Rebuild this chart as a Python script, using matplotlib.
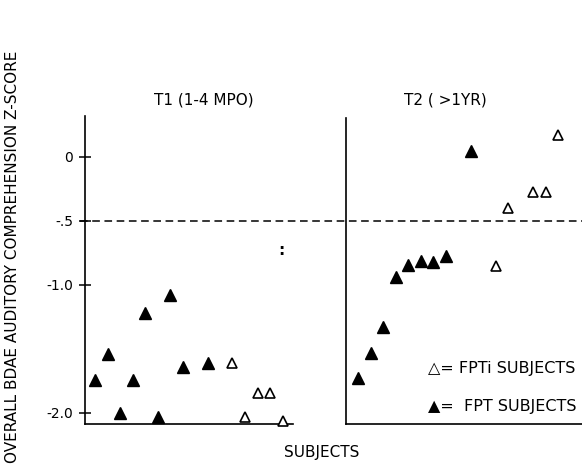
import matplotlib
matplotlib.use("Agg")
import matplotlib.pyplot as plt

plt.rcParams['font.family'] = ['DejaVu Sans']

# T1 panel (1-4 months post onset)
t1_fpt_x = [1, 2, 3, 4, 5, 6, 7, 8, 10]
t1_fpt_z = [-1.74, -1.54, -2.00, -1.74, -1.22, -2.03, -1.08, -1.64, -1.61]
t1_fpti_x = [12, 13, 14, 15, 16]
t1_fpti_z = [-1.61, -2.03, -1.84, -1.84, -2.06]

# T2 panel (> 1 year)
t2_fpt_x = [1, 2, 3, 4, 5, 6, 7, 8, 10]
t2_fpt_z = [-1.73, -1.53, -1.33, -0.94, -0.84, -0.81, -0.82, -0.77, 0.05]
t2_fpti_x = [12, 13, 15, 16, 17]
t2_fpti_z = [-0.85, -0.40, -0.27, -0.27, 0.17]

cutoff = -0.5
yticks = [0, -0.5, -1.0, -2.0]
yticklabels = ['0', '-.5', '-1.0', '-2.0']

W, H = 582, 474
fig = plt.figure(figsize=(W / 100, H / 100), dpi=100)

ax1 = fig.add_axes([85 / W, 50 / H, 208 / W, 308 / H])
ax2 = fig.add_axes([346 / W, 50 / H, 236 / W, 306 / H])
ax1.patch.set_visible(False)
ax2.patch.set_visible(False)

tri = dict(marker='^', linestyle='none', clip_on=False, zorder=3)
ax1.plot(t1_fpt_x, t1_fpt_z, color='black', markersize=8, **tri)
ax1.plot(t1_fpti_x, t1_fpti_z, markerfacecolor='white', markeredgecolor='black',
         markeredgewidth=1.2, markersize=7.5, **tri)
ax2.plot(t2_fpt_x, t2_fpt_z, color='black', markersize=8, **tri)
ax2.plot(t2_fpti_x, t2_fpti_z, markerfacecolor='white', markeredgecolor='black',
         markeredgewidth=1.2, markersize=7.5, **tri)

ax1.set_xlim(0.2, 16.84)
ax1.set_ylim(-2.086, 0.32)
ax2.set_xlim(0.04, 18.9)
ax2.set_ylim(-2.086, 0.305)

# dashed cut-off line runs across both panels
ax1.plot([-0.2, 40], [cutoff, cutoff], color='black', linestyle=(0, (5, 3)),
         linewidth=1.1, clip_on=False, zorder=1)

ax1.text(15.9, -0.73, ':', fontsize=11, fontweight='bold', ha='center', va='center')

for ax in (ax1, ax2):
    ax.spines['top'].set_visible(False)
    ax.spines['right'].set_visible(False)
    ax.spines['left'].set_linewidth(1.2)
    ax.spines['bottom'].set_linewidth(1.2)
    ax.set_xticks([])

ax1.set_yticks(yticks)
ax1.set_yticklabels(yticklabels, fontsize=10)
ax1.tick_params(axis='y', direction='inout', length=9, width=1.1, pad=4)
ax2.set_yticks([])

fig.text(204 / W, 1 - 100 / H, 'T1 (1-4 MPO)', fontsize=11, ha='center', va='center')
fig.text(445 / W, 1 - 100 / H, 'T2 ( >1YR)', fontsize=11, ha='center', va='center')
fig.text(322 / W, 1 - 453 / H, 'SUBJECTS', fontsize=11, ha='center', va='center')
fig.text(13 / W, 1 - 257 / H, 'OVERALL BDAE AUDITORY COMPREHENSION Z-SCORE',
         fontsize=11, rotation=90, ha='center', va='center')
fig.text(428 / W, 1 - 369 / H, '\u25b3= FPTi SUBJECTS', fontsize=11.5, ha='left', va='center')
fig.text(428 / W, 1 - 406 / H, '\u25b2=  FPT SUBJECTS', fontsize=11.5, ha='left', va='center')

fig.savefig('out.png', dpi=100)
